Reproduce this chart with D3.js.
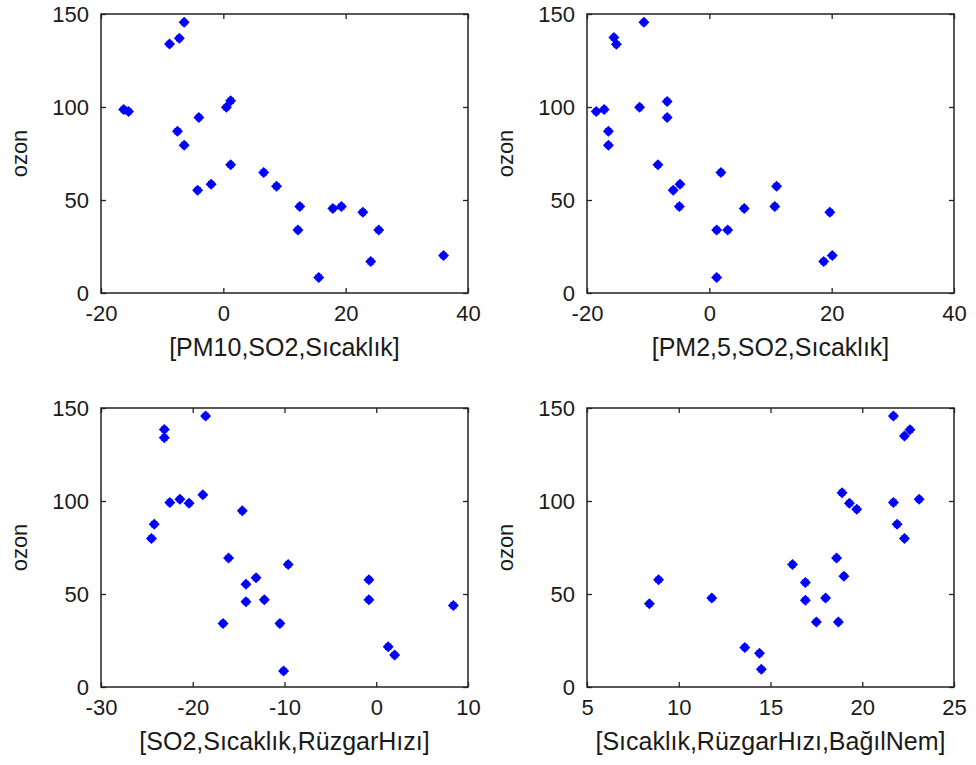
<!DOCTYPE html>
<html>
<head>
<meta charset="utf-8">
<script src="https://cdn.jsdelivr.net/npm/d3@7"></script>
<style>
  body { margin: 0; background: #fff; }
  text { font-family: "Liberation Sans", Arial, sans-serif; fill: #1a1a1a; }
</style>
</head>
<body>
<svg id="chart" width="976" height="765"></svg>
<script>
// values, one x and one y array per panel
var pm10X = [-6.4, -7.2, -8.8, -16.3, -15.5, 0.5, 1.2, -4.0, -7.5, -6.4, 1.2, 6.6, -2.0, -4.2, 8.7, 12.5, 17.9, 19.3, 22.8, 12.2, 25.4, 36.0, 24.1, 15.6];
var pm10Y = [145.5, 136.9, 133.9, 98.7, 97.6, 99.8, 103.4, 94.4, 87.0, 79.5, 68.9, 64.8, 58.5, 55.3, 57.4, 46.5, 45.4, 46.5, 43.4, 33.9, 33.9, 20.1, 16.9, 8.4];

var pm25X = [-10.7, -15.6, -15.2, -18.5, -17.2, -11.4, -6.9, -6.9, -16.5, -16.5, -8.4, 1.9, -4.8, -5.9, 11.0, -4.9, 5.7, 10.7, 19.7, 1.2, 3.0, 20.1, 18.7, 1.2];
var pm25Y = [145.5, 137.3, 133.7, 97.6, 98.7, 99.8, 103.0, 94.4, 87.0, 79.5, 68.9, 64.8, 58.5, 55.3, 57.4, 46.5, 45.4, 46.5, 43.4, 33.9, 33.9, 20.1, 16.9, 8.4];

var so2X = [-18.6, -23.1, -23.1, -22.5, -21.4, -20.4, -18.9, -14.6, -24.2, -24.5, -16.1, -9.6, -13.1, -14.2, -0.8, -14.2, -12.2, -0.8, 8.4, -16.7, -10.5, 1.3, 2.0, -10.1];
var so2Y = [145.7, 138.5, 134.0, 99.2, 100.9, 98.8, 103.3, 94.7, 87.5, 79.9, 69.3, 65.9, 58.7, 55.3, 57.7, 45.8, 46.9, 46.9, 43.8, 34.1, 34.1, 21.6, 17.2, 8.6];

var sicX = [21.7, 22.3, 22.6, 18.9, 19.3, 19.7, 21.7, 23.1, 21.9, 22.3, 18.6, 16.2, 19.0, 16.9, 8.9, 16.9, 18.0, 11.8, 8.4, 17.5, 18.7, 13.6, 14.4, 14.5];
var sicY = [145.7, 134.9, 138.3, 104.4, 98.8, 95.6, 99.2, 100.9, 87.5, 79.9, 69.3, 65.9, 59.6, 56.2, 57.7, 46.7, 47.8, 47.8, 44.7, 35.0, 35.0, 21.2, 18.1, 9.5];

var yTicks = [0, 50, 100, 150];
var pmTicks = [-20, 0, 20, 40];
var so2Ticks = [-30, -20, -10, 0, 10];
var sicTicks = [5, 10, 15, 20, 25];
var yLabel = 'ozon';

var panels = [
  {xs: pm10X, ys: pm10Y, domain: [-20, 40], ticks: pmTicks, label: '[PM10,SO2,Sıcaklık]', left: 101, top: 14},
  {xs: pm25X, ys: pm25Y, domain: [-20, 40], ticks: pmTicks, label: '[PM2,5,SO2,Sıcaklık]', left: 587, top: 14},
  {xs: so2X, ys: so2Y, domain: [-30, 10], ticks: so2Ticks, label: '[SO2,Sıcaklık,RüzgarHızı]', left: 101, top: 408},
  {xs: sicX, ys: sicY, domain: [5, 25], ticks: sicTicks, label: '[Sıcaklık,RüzgarHızı,BağılNem]', left: 587, top: 408}
];

var w = 367, h = 279, tickLen = 5;
var svg = d3.select('#chart');

// diamond with a smaller square on top, looks like the matlab marker
var marker = 'M0,-5.5L5.5,0L0,5.5L-5.5,0Z M-3.2,-3.2H3.2V3.2H-3.2Z';

// plain hyphen for negatives, like the original
var fmt = function(d) { return String(d); };

panels.forEach(function(p) {
  var g = svg.append('g').attr('transform', 'translate(' + p.left + ',' + p.top + ')');
  var x = d3.scaleLinear().domain(p.domain).range([0, w]);
  var y = d3.scaleLinear().domain([0, 150]).range([h, 0]);

  // inward ticks on all four sides
  g.append('g').attr('transform', 'translate(0,' + h + ')')
    .call(d3.axisBottom(x).tickValues(p.ticks).tickFormat(fmt).tickSizeInner(-tickLen).tickSizeOuter(0).tickPadding(12));
  g.append('g')
    .call(d3.axisTop(x).tickValues(p.ticks).tickSizeInner(-tickLen).tickSizeOuter(0).tickFormat(''));
  g.append('g')
    .call(d3.axisLeft(y).tickValues(yTicks).tickFormat(fmt).tickSizeInner(-tickLen).tickSizeOuter(0).tickPadding(12));
  g.append('g').attr('transform', 'translate(' + w + ',0)')
    .call(d3.axisRight(y).tickValues(yTicks).tickSizeInner(-tickLen).tickSizeOuter(0).tickFormat(''));

  g.selectAll('.domain').remove();
  g.selectAll('.tick line').attr('stroke', '#222').attr('stroke-width', 1.3);
  g.selectAll('.tick text').attr('font-size', 22).attr('fill', '#1a1a1a')
    .attr('font-family', '"Liberation Sans", Arial, sans-serif');

  g.append('rect').attr('width', w).attr('height', h)
    .attr('fill', 'none').attr('stroke', '#222').attr('stroke-width', 1.5);

  g.selectAll('.pt').data(p.xs).enter().append('path')
    .attr('class', 'pt')
    .attr('d', marker)
    .attr('fill', '#0000ff')
    .attr('transform', function(d, i) { return 'translate(' + x(d) + ',' + y(p.ys[i]) + ')'; });

  g.append('text')
    .attr('x', w / 2).attr('y', h + 63)
    .attr('text-anchor', 'middle')
    .attr('font-size', 25)
    .text(p.label);

  g.append('text')
    .attr('transform', 'translate(' + (-74) + ',' + (h / 2) + ') rotate(-90)')
    .attr('text-anchor', 'middle')
    .attr('font-size', 22)
    .text(yLabel);
});
</script>
</body>
</html>
